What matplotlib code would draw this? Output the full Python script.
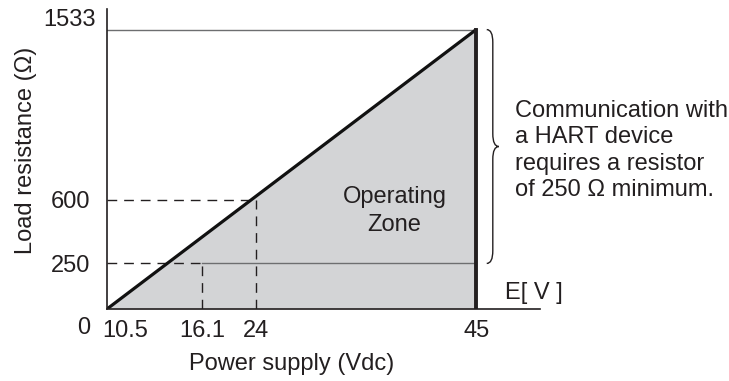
import numpy as np
import matplotlib
matplotlib.use("Agg")
import matplotlib.pyplot as plt
from matplotlib.path import Path
from matplotlib.patches import PathPatch
from matplotlib.transforms import ScaledTranslation, blended_transform_factory

plt.rcParams["font.family"] = ["Liberation Sans", "DejaVu Sans"]

# --- dados da curva de carga ---
v_min = 10.5          # tensão mínima (V)
v_max = 45.0          # tensão máxima (V)
r_max = 1533          # resistência máxima em v_max (ohm)
v_hart = 16.1         # tensão para 250 ohm
r_hart = 250          # resistência mínima para HART
v_nom = 24.0          # tensão nominal
r_nom = 600           # resistência em 24 V

x_ticks = [10.5, 16.1, 24, 45]
x_tick_labels = ["10.5", "16.1", "24", "45"]
y_ticks = [250, 600, 1533]
y_tick_labels = ["250", "600", "1533"]

# escala do eixo x (esquemática, trechos lineares)
_esc_v = np.array([0.0, 10.5, 16.1, 24.0, 45.0, 60.0])
_esc_p = np.array([-116.0, 0.0, 95.0, 149.0, 369.0, 526.0])

def fwd(v):
    return np.interp(v, _esc_v, _esc_p)

def inv(p):
    return np.interp(p, _esc_p, _esc_v)

TXT = "#231f20"
FS = 17

fig = plt.figure(figsize=(7.29, 3.81), dpi=100)
ax = fig.add_axes([107 / 729, 1 - 309 / 381, 433 / 729, 300 / 381])
ax.set_xscale("function", functions=(fwd, inv))
ax.set_xlim(v_min, 51.1)
ax.set_ylim(0, 1646)

# zona de operação
ax.fill_between([v_min, v_max], [0, 0], [0, r_max], color="#d3d4d6", lw=0, zorder=1)

# linhas de referência
ax.plot([v_hart, v_max], [r_hart, r_hart], color="#6d6e70", lw=1.0, zorder=2)
ax.plot([v_min, v_max], [r_max, r_max], color="#6d6e70", lw=1.0, zorder=2)
dash = dict(color="#231f20", lw=1.0, ls=(0, (7, 5)), zorder=3)
ax.plot([v_min, v_hart], [r_hart, r_hart], **dash)
ax.plot([v_hart, v_hart], [0, r_hart], **dash)
ax.plot([v_min, v_nom], [r_nom, r_nom], **dash)
ax.plot([v_nom, v_nom], [0, r_nom], **dash)

# curva e limite de tensão
ax.plot([v_min, v_max], [0, r_max], color="#111111", lw=2.3, zorder=4, solid_capstyle="butt")
ax.plot([v_max, v_max], [0, r_max], color="#231f20", lw=2.8, zorder=4, solid_capstyle="projecting")

for s in ["top", "right"]:
    ax.spines[s].set_visible(False)
for s in ["left", "bottom"]:
    ax.spines[s].set_linewidth(1.2)
    ax.spines[s].set_color("#231f20")
    ax.spines[s].set_zorder(5)

ax.set_xticks(x_ticks)
ax.set_xticklabels(x_tick_labels)
ax.set_yticks(y_ticks)
ax.set_yticklabels(y_tick_labels)
ax.tick_params(axis="x", length=0, pad=8, labelsize=FS, labelcolor=TXT)
ax.tick_params(axis="y", length=0, pad=12, labelsize=FS, labelcolor=TXT)
ax.xaxis.set_minor_locator(matplotlib.ticker.NullLocator())

# ajustes finos dos rótulos
lbl0 = ax.get_xticklabels()[0]
lbl0.set_ha("left")
lbl0.set_transform(lbl0.get_transform() + ScaledTranslation(-5 / 100, 0, fig.dpi_scale_trans))
lbl_top = ax.get_yticklabels()[2]
lbl_top.set_transform(lbl_top.get_transform() + ScaledTranslation(5 / 100, 12 / 100, fig.dpi_scale_trans))

ax.text(-23 / 433, -19 / 300, "0", transform=ax.transAxes, ha="center", va="center",
        fontsize=FS, color=TXT)

ax.set_xlabel("Power supply (Vdc)", fontsize=FS, color=TXT)
ax.xaxis.set_label_coords((292 - 107) / 433, -(353 - 309) / 300)
ax.set_ylabel("Load resistance (Ω)", fontsize=FS, color=TXT)
ax.yaxis.set_label_coords(-(107 - 37) / 433, (309 - 150) / 300)

ax.text(0.664, (309 - 211) / 300, "Operating\nZone", transform=ax.transAxes, ha="center",
        va="center", fontsize=FS, color=TXT, linespacing=1.3, zorder=6)
ax.text((505 - 107) / 433, (309 - 293) / 300, "E[ V ]", transform=ax.transAxes, ha="left",
        va="center", fontsize=FS, color=TXT)

# chave do lado direito
tr = blended_transform_factory(ax.transAxes, ax.transData)
x0, x1, x2 = 0.877, 0.891, 0.905
yt, yb = r_max, r_hart
ym = (yt + yb) / 2
r = 70
verts = [(x0, yt), (x1, yt), (x1, yt - r),
         (x1, ym + r), (x1, ym), (x2, ym),
         (x1, ym), (x1, ym - r),
         (x1, yb + r), (x1, yb), (x0, yb)]
codes = [Path.MOVETO, Path.CURVE3, Path.CURVE3,
         Path.LINETO, Path.CURVE3, Path.CURVE3,
         Path.CURVE3, Path.CURVE3,
         Path.LINETO, Path.CURVE3, Path.CURVE3]
ax.add_patch(PathPatch(Path(verts, codes), transform=tr, fill=False,
                       edgecolor="#231f20", lw=1.0, clip_on=False))

fig.text(515 / 729, 1 - 150.5 / 381,
         "Communication with\na HART device\nrequires a resistor\nof 250 Ω minimum.",
         ha="left", va="center", fontsize=FS, color=TXT, linespacing=1.27)

fig.savefig("out.png", dpi=100)
